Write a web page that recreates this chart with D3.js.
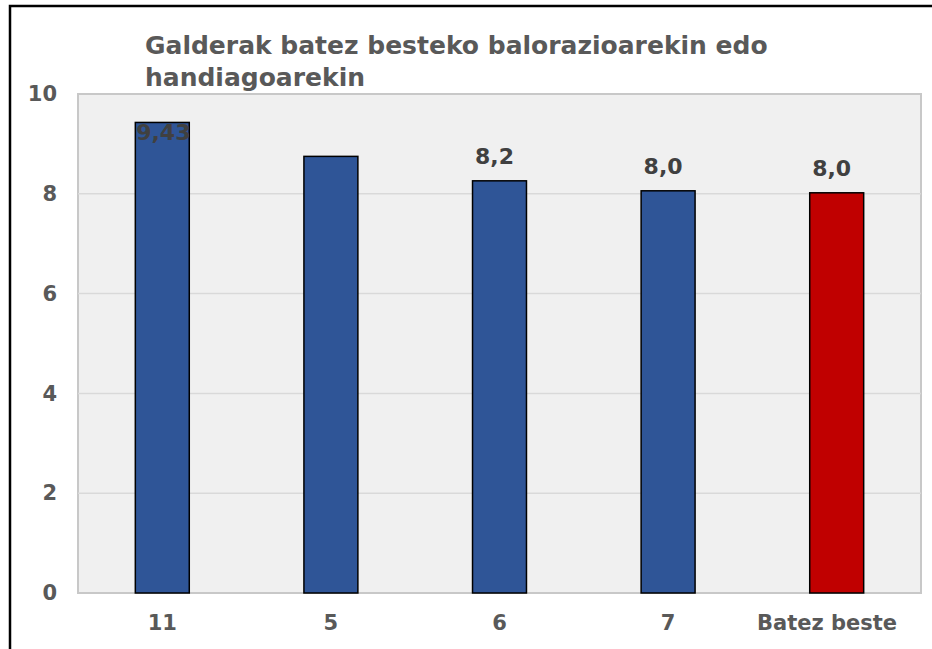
<!DOCTYPE html>
<html>
<head>
<meta charset="utf-8">
<script src="https://cdn.jsdelivr.net/npm/d3@7"></script>
<style>
  body { margin: 0; background: #fff; }
  text { font-family: "DejaVu Sans", sans-serif; font-weight: bold; }
</style>
</head>
<body>
<div id="chart"></div>
<script>
// chart values
const categories = ["11", "5", "6", "7", "Batez beste"];
const values = [9.43, 8.75, 8.26, 8.06, 8.02];
const labels = ["9,43", null, "8,2", "8,0", "8,0"];
const barColors = ["#2F5597", "#2F5597", "#2F5597", "#2F5597", "#C00000"];
const yTicks = [0, 2, 4, 6, 8, 10];
const titleLines = ["Galderak batez besteko balorazioarekin edo", "handiagoarekin"];

const width = 932, height = 649;
const margin = {top: 94, right: 11, bottom: 56, left: 78};

const svg = d3.select("#chart").append("svg")
    .attr("width", width)
    .attr("height", height);

// outer frame (cropped on right and bottom)
svg.append("path")
    .attr("d", "M10," + height + " V6 H" + width)
    .attr("fill", "none")
    .attr("stroke", "#000")
    .attr("stroke-width", 2.5);

let x = d3.scaleBand()
    .domain(categories)
    .range([margin.left, width - margin.right])
    .paddingInner(0.68)
    .paddingOuter(0.34);

let y = d3.scaleLinear()
    .domain([0, 10])
    .range([height - margin.bottom, margin.top]);

// plot background
svg.append("rect")
    .attr("x", margin.left)
    .attr("y", margin.top)
    .attr("width", width - margin.left - margin.right)
    .attr("height", height - margin.top - margin.bottom)
    .attr("fill", "#f0f0f0")
    .attr("stroke", "#c8c8c8")
    .attr("stroke-width", 2);

// gridlines
svg.append("g")
    .selectAll("line")
    .data(yTicks.filter(d => d > 0 && d < 10))
    .enter().append("line")
    .attr("x1", margin.left)
    .attr("x2", width - margin.right)
    .attr("y1", d => y(d))
    .attr("y2", d => y(d))
    .attr("stroke", "#d9d9d9")
    .attr("stroke-width", 1.5);

// y axis labels
let yAxis = d3.axisLeft(y).tickValues(yTicks).tickSize(0).tickPadding(21);
let yG = svg.append("g")
    .attr("transform", "translate(" + margin.left + ",0)")
    .call(yAxis);
yG.select(".domain").remove();
yG.selectAll("text")
    .attr("fill", "#595959")
    .style("font-size", "21px");

// x axis labels
let xAxis = d3.axisBottom(x).tickSize(0).tickPadding(22);
let xG = svg.append("g")
    .attr("transform", "translate(0," + (height - margin.bottom) + ")")
    .call(xAxis);
xG.select(".domain").remove();
xG.selectAll("text")
    .attr("fill", "#595959")
    .style("font-size", "21px");

// keep long labels away from the right edge, like the original does
xG.selectAll(".tick").each(function () {
    let t = d3.select(this).select("text");
    let box = this.getBBox();
    let m = this.getCTM();
    let right = m.e + box.x + box.width;
    if (right > width - 35) t.attr("x", (width - 35) - right);
});

// bars
svg.append("g")
    .selectAll("rect")
    .data(values)
    .enter().append("rect")
    .attr("x", (d, i) => x(categories[i]))
    .attr("y", d => y(d))
    .attr("width", x.bandwidth())
    .attr("height", d => y(0) - y(d))
    .attr("fill", (d, i) => barColors[i])
    .attr("stroke", "#000")
    .attr("stroke-width", 1.5);

// value labels
let labelData = d3.range(values.length).filter(i => labels[i] !== null);
let inside = i => (y(values[i]) - 17 - 16 < margin.top); // too close to the title
svg.append("g")
    .selectAll("text")
    .data(labelData)
    .enter().append("text")
    .attr("x", i => x(categories[i]) + x.bandwidth() / 2 + (inside(i) ? 1 : -5))
    .attr("y", i => inside(i) ? y(values[i]) + 18 : y(values[i]) - 17)
    .attr("text-anchor", "middle")
    .attr("fill", "#404040")
    .style("font-size", "22px")
    .text(i => labels[i]);

// title
svg.append("g")
    .selectAll("text")
    .data(titleLines)
    .enter().append("text")
    .attr("x", 145)
    .attr("y", (d, i) => 54 + i * 32)
    .attr("fill", "#595959")
    .style("font-size", "25px")
    .text(d => d);
</script>
</body>
</html>
